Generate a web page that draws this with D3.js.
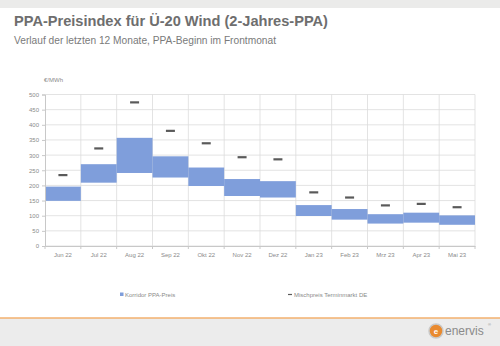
<!DOCTYPE html>
<html><head><meta charset="utf-8">
<script src="https://cdn.jsdelivr.net/npm/d3@7"></script>
<style>body{margin:0;background:#fff}svg{display:block;font-family:"Liberation Sans",Arial,sans-serif}</style>
</head><body><svg id="c" width="500" height="346"></svg>
<script>
const months = ["Jun 22","Jul 22","Aug 22","Sep 22","Okt 22","Nov 22","Dez 22","Jan 23","Feb 23","Mrz 23","Apr 23","Mai 23"];
const corridorLow  = [149,209,241,226,198,165,160,99,87,74,77,70];
const corridorHigh = [196,270,357,296,259,221,214,135,122,105,110,101];
const mixPrice     = [234,322,474,380,339,293,286,177,160,134,139,128];
const yTicks = [0,50,100,150,200,250,300,350,400,450,500];

const svg = d3.select("#c");
const W=500,H=346;
svg.append("rect").attr("x",0).attr("y",0).attr("width",W).attr("height",8).attr("fill","#ebebea");
svg.append("text").attr("x",14).attr("y",26).attr("font-size",14.6).attr("font-weight","bold").attr("fill","#6e6e6e").text("PPA-Preisindex für Ü-20 Wind (2-Jahres-PPA)");
svg.append("text").attr("x",14).attr("y",44).attr("font-size",10.2).attr("fill","#7a7a7a").text("Verlauf der letzten 12 Monate, PPA-Beginn im Frontmonat");

const m={l:45,r:475,t:94.5,b:246};
const x=d3.scaleBand().domain(months).range([m.l,m.r]).padding(0);
const y=d3.scaleLinear().domain([0,500]).range([m.b,m.t]);

svg.append("g").selectAll("line").data(yTicks).join("line")
 .attr("x1",m.l).attr("x2",m.r).attr("y1",d=>y(d)).attr("y2",d=>y(d))
 .attr("stroke","#dcdcdc").attr("stroke-width",0.8);
svg.append("g").selectAll("line").data(d3.range(1,months.length+1)).join("line")
 .attr("x1",i=>m.l+i*x.step()).attr("x2",i=>m.l+i*x.step())
 .attr("y1",m.t).attr("y2",m.b).attr("stroke","#dcdcdc").attr("stroke-width",0.8);

svg.append("g").selectAll("rect").data(months).join("rect")
 .attr("x",d=>x(d)).attr("width",x.bandwidth())
 .attr("y",(d,i)=>y(corridorHigh[i])).attr("height",(d,i)=>y(corridorLow[i])-y(corridorHigh[i]))
 .attr("fill","#7f9edb");
svg.append("g").selectAll("line").data(months).join("line")
 .attr("x1",d=>x(d)+x.bandwidth()/2-4.5).attr("x2",d=>x(d)+x.bandwidth()/2+4.5)
 .attr("y1",(d,i)=>y(mixPrice[i])).attr("y2",(d,i)=>y(mixPrice[i]))
 .attr("stroke","#5a5a5a").attr("stroke-width",2.2);

const ya=d3.axisLeft(y).tickValues(yTicks).tickSize(3).tickPadding(3);
const gy=svg.append("g").attr("transform",`translate(${m.l},0)`).call(ya);
gy.select(".domain").attr("stroke","#c8c8c8");
gy.selectAll(".tick line").attr("stroke","#c8c8c8");
gy.selectAll("text").attr("font-size",6).attr("fill","#8a8a8a").attr("font-family","Liberation Sans, Arial, sans-serif");

const xa=d3.axisBottom(x).tickSize(0).tickPadding(7);
const gx=svg.append("g").attr("transform",`translate(0,${m.b})`).call(xa);
gx.select(".domain").attr("stroke","#c8c8c8");
gx.selectAll("text").attr("font-size",6).attr("fill","#8a8a8a").attr("font-family","Liberation Sans, Arial, sans-serif");
svg.append("g").selectAll("line").data(d3.range(months.length+1)).join("line")
 .attr("x1",i=>m.l+i*x.step()).attr("x2",i=>m.l+i*x.step()).attr("y1",m.b).attr("y2",m.b+3)
 .attr("stroke","#c8c8c8");

svg.append("text").attr("x",m.l-1).attr("y",82).attr("font-size",6).attr("fill","#8a8a8a").text("€/MWh");

svg.append("rect").attr("x",120).attr("y",292.5).attr("width",3.5).attr("height",3.5).attr("fill","#7f9edb");
svg.append("text").attr("x",125).attr("y",296.5).attr("font-size",6).attr("fill","#8a8a8a").text("Korridor PPA-Preis");
svg.append("line").attr("x1",288).attr("x2",292).attr("y1",294.5).attr("y2",294.5).attr("stroke","#5a5a5a").attr("stroke-width",1.2);
svg.append("text").attr("x",294).attr("y",296.5).attr("font-size",6).attr("fill","#8a8a8a").text("Mischpreis Terminmarkt DE");

svg.append("rect").attr("x",0).attr("y",318).attr("width",W).attr("height",H-318).attr("fill","#ececec");
svg.append("line").attr("x1",0).attr("x2",W).attr("y1",318).attr("y2",318).attr("stroke","#f3b16e").attr("stroke-width",1.5);
const lg=svg.append("g");
lg.append("circle").attr("cx",436).attr("cy",331).attr("r",7).attr("fill","#e98a2f").attr("stroke","#c9c9c9").attr("stroke-width",1.5);
lg.append("text").attr("x",436).attr("y",334).attr("text-anchor","middle").attr("font-size",8).attr("fill","#fff").attr("font-weight","bold").text("e");
lg.append("text").attr("x",445).attr("y",335).attr("font-size",12).attr("fill","#8a8a8a").text("enervis");
lg.append("text").attr("x",488).attr("y",326).attr("font-size",4).attr("fill","#8a8a8a").text("®");
</script></body></html>
